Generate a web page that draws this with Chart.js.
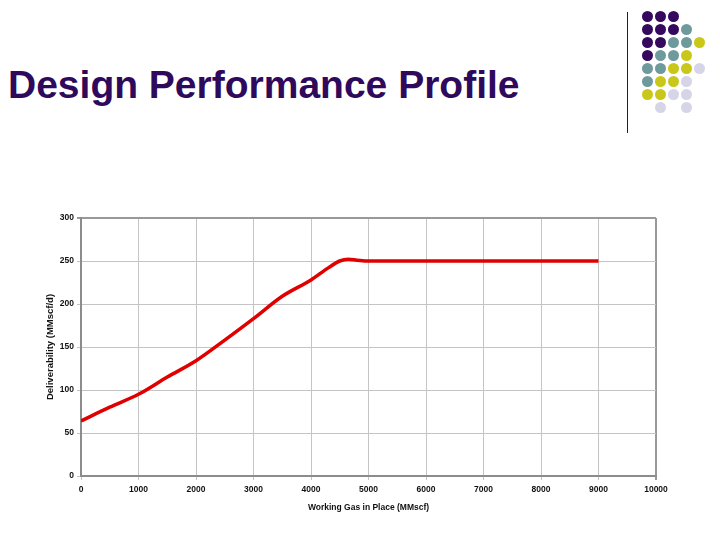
<!DOCTYPE html>
<html>
<head>
<meta charset="utf-8">
<script src="https://cdn.jsdelivr.net/npm/chart.js@4"></script>
<style>
  body { margin: 0; background: #fff; width: 720px; height: 540px; overflow: hidden; position: relative; font-family: "Liberation Sans", Arial, sans-serif; }
  #title { position: absolute; left: 8px; top: 63px; font-size: 39px; font-weight: bold; color: #2f0a5c; white-space: nowrap; }
  #vline { position: absolute; left: 627px; top: 12px; width: 1px; height: 121px; background: #222; }
  .dot { position: absolute; width: 11px; height: 11px; border-radius: 50%; }
  #wrap { position: absolute; left: 0; top: 0; width: 720px; height: 540px; }
</style>
</head>
<body>
<div id="title">Design Performance Profile</div>
<div id="vline"></div>
<div id="dots"></div>
<div id="wrap"><canvas id="myChart" width="720" height="540"></canvas></div>
<script>
// data
var gasInPlace = [0, 500, 1000, 1500, 2000, 2500, 3000, 3500, 4000, 4300, 4500, 4650, 4800, 5000, 6000, 7000, 8000, 9000];
var deliverability = [64, 80, 95, 115, 134, 158, 183, 209, 228, 242, 250, 252, 251, 250, 250, 250, 250, 250];
var xTicks = [0, 1000, 2000, 3000, 4000, 5000, 6000, 7000, 8000, 9000, 10000];
var yTicks = [0, 50, 100, 150, 200, 250, 300];

// decoration dots top right
var dotRows = [
  'PPP..',
  'PPPT.',
  'PPTTY',
  'PTTY.',
  'TTYYL',
  'TYYL.',
  'YYLL.',
  '.L.L.'
];
var dotColors = { P: '#35095e', T: '#6f9a9c', Y: '#c9c81a', L: '#d5d5e7' };
var dotsBox = document.getElementById('dots');
dotRows.forEach(function(row, r) {
  row.split('').forEach(function(c, col) {
    if (c == '.') return;
    var d = document.createElement('div');
    d.className = 'dot';
    d.style.left = (642 + col * 13) + 'px';
    d.style.top = (11 + r * 13) + 'px';
    d.style.background = dotColors[c];
    dotsBox.appendChild(d);
  });
});

var points = gasInPlace.map(function(x, i) { return { x: x, y: deliverability[i] }; });
var tickFont = { family: 'Liberation Sans, Arial', size: 8.5, weight: 'bold' };

const ctx = document.getElementById('myChart');

new Chart(ctx, {
  type: 'line',
  data: {
    datasets: [{
      data: points,
      borderColor: '#e00000',
      borderWidth: 3.5,
      pointRadius: 0,
      tension: 0.35,
      cubicInterpolationMode: 'monotone',
      fill: false
    }]
  },
  options: {
    responsive: false,
    animation: false,
    layout: { padding: { left: 42, top: 218, right: 64, bottom: 27 } },
    plugins: { legend: { display: false }, tooltip: { enabled: false } },
    scales: {
      x: {
        type: 'linear',
        min: 0,
        max: 10000,
        afterBuildTicks: function(s) { s.ticks = xTicks.map(function(v) { return { value: v }; }); },
        afterFit: function(s) { s.height = 37; },
        ticks: { color: '#111', font: tickFont, padding: 5, maxRotation: 0, callback: function(v) { return String(v); } },
        grid: {
          color: function(c) { return c.tick && c.tick.value == 10000 ? '#999' : '#c4c4c4'; },
          lineWidth: function(c) { return c.tick && c.tick.value == 10000 ? 2 : 1; },
          tickLength: 4
        },
        border: { color: '#8c8c8c', width: 2 },
        title: { display: true, text: 'Working Gas in Place (MMscf)', color: '#111', font: { family: 'Liberation Sans, Arial', size: 8.5, weight: 'bold' }, padding: { top: 2, bottom: 0 } }
      },
      y: {
        min: 0,
        max: 300,
        afterBuildTicks: function(s) { s.ticks = yTicks.map(function(v) { return { value: v }; }); },
        afterFit: function(s) { s.width = 39; },
        ticks: { color: '#111', font: tickFont, padding: 3 },
        grid: {
          color: function(c) { return c.tick && c.tick.value == 300 ? '#999' : '#c4c4c4'; },
          lineWidth: function(c) { return c.tick && c.tick.value == 300 ? 2 : 1; },
          tickLength: 4
        },
        border: { color: '#8c8c8c', width: 2 },
        title: { display: true, text: 'Deliverability (MMscf/d)', color: '#111', font: { family: 'Liberation Sans, Arial', size: 9.5, weight: 'bold' }, padding: { top: 3, bottom: 0 } }
      }
    }
  }
});
</script>
</body>
</html>
